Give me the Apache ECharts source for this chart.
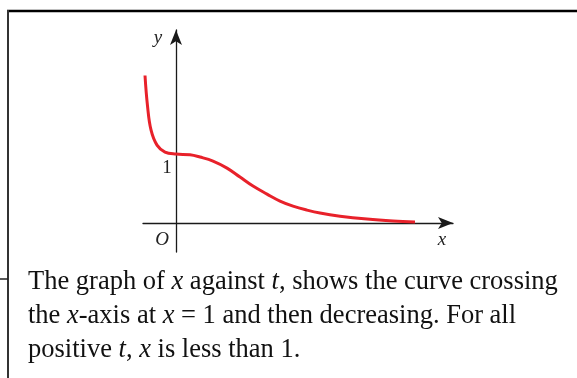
<!DOCTYPE html>
<html>
<head>
<meta charset="utf-8">
<script src="https://cdn.jsdelivr.net/npm/echarts@6/dist/echarts.min.js"></script>
<style>
  html, body { margin: 0; padding: 0; background: #fff; }
  #chart { width: 577px; height: 378px; }
</style>
</head>
<body>
<div id="chart"></div>
<script>
// Curve of x against t: sampled points (t, x)
const tValues = [-0.62, -0.57, -0.50, -0.38, -0.22, 0.00, 0.28, 0.48, 0.74, 1.02, 1.28, 1.54, 1.82, 2.08, 2.34, 2.62, 2.88, 3.28, 3.82, 4.34, 4.78];
const xValues = [2.14, 1.70, 1.35, 1.13, 1.03, 1.00, 0.99, 0.957, 0.899, 0.797, 0.667, 0.536, 0.420, 0.319, 0.246, 0.188, 0.145, 0.10, 0.058, 0.03, 0.015];

// Axis extents
const hRange = [-0.66, 5.54];
const vRange = [-0.42, 2.80];

// Tick label on the vertical axis
const vTickValue = 1;
const vTickLabel = '1';

// Axis letters
const hAxisName = 'x';
const vAxisName = 'y';
const originName = 'O';

// Caption lines
const captionLines = [
  'The graph of {i|x} against {i|t}, shows the curve crossing',
  'the {i|x}-axis at {i|x} = 1 and then decreasing. For all',
  'positive {i|t}, {i|x} is less than 1.'
];

const serif = '"Liberation Serif", "DejaVu Serif", serif';
const curveData = tValues.map((t, i) => [t, xValues[i]]);

const chart = echarts.init(document.getElementById('chart'), null, { renderer: 'canvas' });

const axisLineStyle = { color: '#1a1a1a', width: 1.3 };

chart.setOption({
  animation: false,
  backgroundColor: '#fff',
  grid: { left: 143, top: 30, width: 310, height: 222, containLabel: false },
  xAxis: {
    type: 'value', min: hRange[0], max: hRange[1],
    axisLine: { show: true, onZero: true, symbol: ['none', 'arrow'], symbolSize: [9, 15], lineStyle: axisLineStyle },
    axisTick: { show: false }, axisLabel: { show: false }, splitLine: { show: false }
  },
  yAxis: {
    type: 'value', min: vRange[0], max: vRange[1],
    axisLine: { show: true, onZero: true, symbol: ['none', 'arrow'], symbolSize: [9, 15], lineStyle: axisLineStyle },
    axisTick: { show: false }, axisLabel: { show: false }, splitLine: { show: false }
  },
  title: {
    text: captionLines.join('\n'),
    left: 28, top: 265, padding: 0,
    textStyle: {
      fontFamily: serif, fontSize: 26.5, fontWeight: 'normal', color: '#111', lineHeight: 34,
      rich: { i: { fontFamily: serif, fontSize: 26.5, fontStyle: 'italic', color: '#111', lineHeight: 34 } }
    }
  },
  series: [{
    type: 'line',
    data: curveData,
    smooth: 0.4,
    showSymbol: false,
    clip: false,
    lineStyle: { color: '#e8212a', width: 3 }
  }]
});

// Letters and the tick label placed relative to points on the axes
const px = (p) => chart.convertToPixel({ gridIndex: 0 }, p);
const origin = px([0, 0]);
const hEnd = px([hRange[1], 0]);
const vEnd = px([0, vRange[1]]);
const tick = px([0, vTickValue]);

function letter(text, pos, dx, dy, italic) {
  return {
    type: 'text',
    x: pos[0] + dx, y: pos[1] + dy,
    style: {
      text: text, fill: '#222', font: (italic ? 'italic ' : '') + '19px ' + serif,
      align: 'center', verticalAlign: 'middle'
    }
  };
}

chart.setOption({
  graphic: [
    letter(vAxisName, vEnd, -18, 8, true),
    letter(originName, origin, -14, 17, true),
    letter(hAxisName, hEnd, -11, 17, true),
    letter(vTickLabel, tick, -9, 14, false),
    // frame lines
    { type: 'line', shape: { x1: 7, y1: 11, x2: 577, y2: 11 }, style: { stroke: '#000', lineWidth: 2.5 } },
    { type: 'line', shape: { x1: 8, y1: 10, x2: 8, y2: 378 }, style: { stroke: '#333', lineWidth: 2 } },
    { type: 'line', shape: { x1: 0, y1: 279, x2: 8, y2: 279 }, style: { stroke: '#222', lineWidth: 1.5 } }
  ]
});
</script>
</body>
</html>
